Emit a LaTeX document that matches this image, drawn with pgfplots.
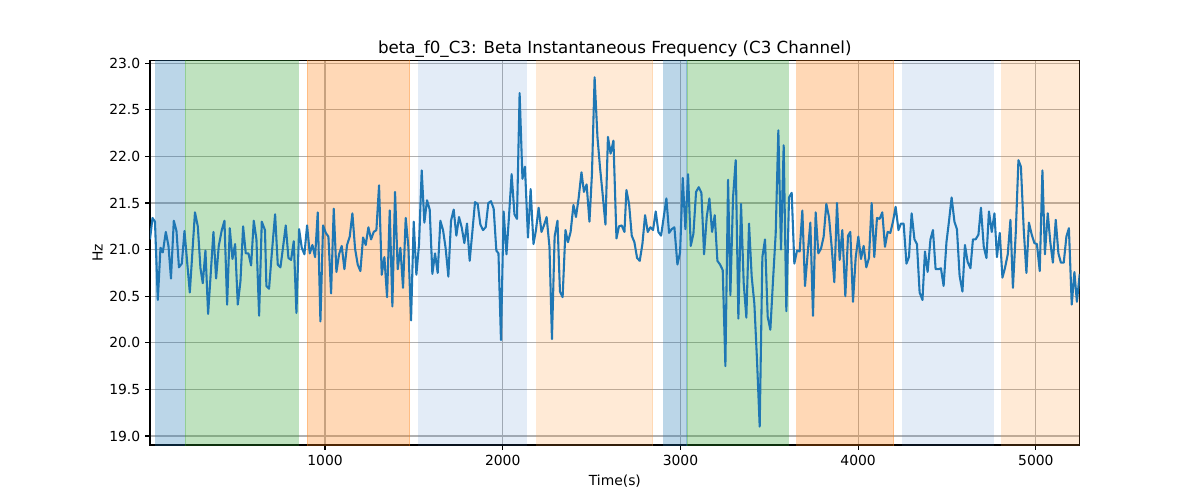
\documentclass[border=0pt]{standalone}
\usepackage{pgfplots}
\pgfplotsset{compat=1.18}
\usepackage{fontspec}
\setmainfont{DejaVu Sans}
\definecolor{tabblue}{HTML}{1F77B4}
\definecolor{tabgreen}{HTML}{2CA02C}
\definecolor{taborange}{HTML}{FF7F0E}
\definecolor{lblue}{RGB}{68,128,202}
\definecolor{lorange}{RGB}{255,150,50}
\definecolor{gridgray}{HTML}{B0B0B0}
\begin{document}
\begin{tikzpicture}
\path[use as bounding box] (-108pt,-39.6pt) rectangle (756pt,320.4pt);
\begin{axis}[
  at={(0pt,0pt)}, anchor=south west,
  scale only axis, width=669.4pt, height=276.7pt,
  xmin=15, xmax=5247, ymin=18.903, ymax=23.028,
  xtick={1000,2000,3000,4000,5000},
  ytick={19,19.5,20,20.5,21,21.5,22,22.5,23},
  yticklabel style={/pgf/number format/.cd, fixed, fixed zerofill, precision=1},
  xticklabel style={/pgf/number format/.cd, 1000 sep={}},
  /pgf/number format/assume math mode=true,
  tick label style={font=\fontsize{10}{12}\selectfont},
  xtick pos=bottom, ytick pos=left, tick align=outside,
  major tick length=3.5pt,
  every tick/.style={black, line width=0.8pt},
  axis line style={black, line width=0.8pt},
  grid=major, major grid style={gridgray, line width=0.8pt},
  title={beta\_f0\_C3: Beta Instantaneous Frequency (C3 Channel)},
  title style={font=\fontsize{12}{14}\selectfont, yshift=-7pt},
  xlabel={Time(s)}, ylabel={Hz},
  label style={font=\fontsize{10}{12}\selectfont},
  xlabel style={yshift=0pt},
  ylabel style={yshift=-2pt},
  clip=true,
]
\addplot[fill=tabblue, draw=tabblue, fill opacity=0.3, draw opacity=0.3, line width=0.6pt] coordinates {(47,18) (47,24) (209,24) (209,18)} -- cycle;
\addplot[fill=tabgreen, draw=tabgreen, fill opacity=0.3, draw opacity=0.3, line width=0.6pt] coordinates {(212,18) (212,24) (850,24) (850,18)} -- cycle;
\addplot[fill=taborange, draw=taborange, fill opacity=0.3, draw opacity=0.3, line width=0.6pt] coordinates {(899,18) (899,24) (1476,24) (1476,18)} -- cycle;
\addplot[fill=lblue, draw=lblue, fill opacity=0.15, draw opacity=0.15, line width=0.6pt] coordinates {(1527,18) (1527,24) (2133,24) (2133,18)} -- cycle;
\addplot[fill=lorange, draw=lorange, fill opacity=0.2, draw opacity=0.2, line width=0.6pt] coordinates {(2191,18) (2191,24) (2844,24) (2844,18)} -- cycle;
\addplot[fill=tabblue, draw=tabblue, fill opacity=0.3, draw opacity=0.3, line width=0.6pt] coordinates {(2906,18) (2906,24) (3035,24) (3035,18)} -- cycle;
\addplot[fill=tabgreen, draw=tabgreen, fill opacity=0.3, draw opacity=0.3, line width=0.6pt] coordinates {(3039,18) (3039,24) (3607,24) (3607,18)} -- cycle;
\addplot[fill=taborange, draw=taborange, fill opacity=0.3, draw opacity=0.3, line width=0.6pt] coordinates {(3654,18) (3654,24) (4200,24) (4200,18)} -- cycle;
\addplot[fill=lblue, draw=lblue, fill opacity=0.15, draw opacity=0.15, line width=0.6pt] coordinates {(4251,18) (4251,24) (4761,24) (4761,18)} -- cycle;
\addplot[fill=lorange, draw=lorange, fill opacity=0.2, draw opacity=0.2, line width=0.6pt] coordinates {(4808,18) (4808,24) (5300,24) (5300,18)} -- cycle;
\addplot[tabblue, line width=1.5pt, line join=round] coordinates {
(15,21.11) (29,21.34) (43,21.30) (59,20.46) (74,21.02) (87,20.97) (104,21.19) (119,21.04) (133,20.69) (149,21.31)
(164,21.20) (178,20.81) (194,20.85) (209,21.20) (224,20.87) (239,20.54) (268,21.40) (284,21.25) (299,20.80) (312,20.64)
(327,20.99) (342,20.31) (357,20.75) (372,21.19) (387,20.69) (402,21.04) (419,21.21) (434,21.31) (449,20.41) (464,21.23)
(479,20.90) (494,21.06) (509,20.41) (524,20.66) (539,21.25) (554,20.96) (569,20.96) (584,20.83) (599,21.31) (614,21.11)
(629,20.29) (644,21.30) (662,21.21) (670,20.61) (685,20.58) (700,20.95) (719,21.38) (734,20.84) (749,20.81) (764,21.03)
(779,21.26) (794,20.91) (809,20.89) (824,21.09) (839,20.32) (854,21.22) (869,21.02) (884,20.95) (899,21.26) (914,20.96)
(929,21.05) (944,20.92) (959,21.40) (974,20.23) (989,21.26) (1004,21.18) (1019,21.14) (1034,20.53) (1049,21.44) (1064,20.76)
(1079,20.95) (1094,21.04) (1109,20.79) (1124,21.05) (1139,21.14) (1154,21.39) (1169,21.01) (1184,20.84) (1199,20.77) (1214,21.13)
(1229,21.05) (1244,21.24) (1259,21.11) (1274,21.19) (1289,21.21) (1304,21.69) (1319,20.73) (1334,20.92) (1349,20.49) (1364,21.42)
(1379,20.39) (1394,21.62) (1409,20.79) (1424,21.02) (1439,20.59) (1454,21.34) (1469,21.03) (1484,20.24) (1499,21.30) (1514,20.73)
(1529,21.06) (1544,21.85) (1559,21.29) (1574,21.53) (1589,21.43) (1604,20.74) (1619,20.96) (1634,20.75) (1649,21.31) (1664,21.21)
(1679,21.01) (1694,20.71) (1709,21.31) (1724,21.43) (1739,21.15) (1754,21.35) (1769,21.24) (1784,21.07) (1799,21.28) (1814,20.88)
(1829,21.19) (1844,21.51) (1859,21.49) (1874,21.27) (1889,21.21) (1904,21.24) (1919,21.50) (1934,21.52) (1949,21.44) (1964,20.99)
(1976,20.96) (1990,20.03) (2005,21.41) (2021,20.95) (2035,21.35) (2050,21.81) (2066,21.38) (2080,21.33) (2095,22.68) (2111,21.76)
(2125,21.89) (2142,21.13) (2157,21.65) (2173,21.06) (2187,21.21) (2202,21.45) (2218,21.19) (2232,21.26) (2247,21.35) (2263,21.03)
(2277,20.04) (2292,21.14) (2308,21.31) (2322,20.55) (2337,20.49) (2353,21.21) (2367,21.08) (2382,21.19) (2398,21.48) (2412,21.35)
(2427,21.55) (2443,21.83) (2457,21.62) (2472,21.70) (2488,21.30) (2502,21.81) (2517,22.85) (2533,22.21) (2547,21.89) (2562,21.60)
(2578,21.27) (2592,22.21) (2607,22.03) (2623,22.17) (2640,21.12) (2654,21.25) (2669,21.26) (2685,21.19) (2696,21.64) (2711,21.49)
(2726,21.15) (2741,21.08) (2756,20.91) (2771,20.88) (2786,21.06) (2801,21.37) (2816,21.19) (2831,21.24) (2846,21.21) (2861,21.41)
(2876,21.19) (2891,21.15) (2906,21.35) (2921,21.55) (2936,21.18) (2951,21.22) (2966,21.24) (2983,20.84) (2998,20.97) (3013,21.77)
(3028,21.22) (3043,21.81) (3058,21.04) (3073,21.17) (3088,21.62) (3103,21.67) (3118,21.61) (3133,20.95) (3148,21.35) (3163,21.55)
(3178,21.19) (3193,21.37) (3208,20.88) (3223,20.84) (3238,20.78) (3253,19.75) (3268,21.75) (3281,20.51) (3296,21.56) (3311,21.96)
(3326,20.26) (3341,21.49) (3356,20.64) (3371,20.27) (3386,21.28) (3401,20.71) (3416,20.42) (3431,19.81) (3446,19.10) (3461,20.92)
(3476,21.11) (3491,20.28) (3506,20.14) (3521,20.67) (3536,21.17) (3551,22.28) (3566,21.00) (3581,22.12) (3596,20.34) (3611,21.56)
(3626,21.61) (3641,20.85) (3656,20.99) (3671,20.98) (3686,21.42) (3701,20.61) (3716,20.96) (3731,21.29) (3746,20.29) (3761,21.40)
(3776,20.96) (3791,21.01) (3806,21.14) (3821,21.49) (3836,21.35) (3851,21.03) (3866,20.65) (3881,21.50) (3896,20.89) (3911,21.21)
(3928,20.50) (3943,21.15) (3956,21.19) (3971,20.44) (3986,20.91) (4001,21.14) (4016,20.90) (4031,21.04) (4046,20.81) (4061,20.91)
(4076,21.50) (4091,20.92) (4106,21.34) (4121,21.33) (4136,21.40) (4151,21.03) (4166,21.19) (4181,21.18) (4196,21.30) (4211,21.46)
(4227,21.21) (4241,21.28) (4256,21.28) (4272,20.85) (4286,20.92) (4301,21.39) (4317,21.11) (4331,21.06) (4346,20.54) (4362,20.46)
(4376,20.98) (4391,20.76) (4407,21.11) (4421,21.21) (4436,20.79) (4452,20.79) (4466,20.80) (4481,20.61) (4497,21.08) (4511,21.30)
(4526,21.56) (4542,21.30) (4556,21.22) (4571,20.72) (4587,20.55) (4601,21.05) (4616,20.87) (4632,20.80) (4646,21.11) (4661,21.11)
(4677,21.16) (4691,21.45) (4707,21.03) (4722,20.91) (4736,21.41) (4752,21.19) (4767,21.39) (4781,20.92) (4797,21.18) (4812,20.70)
(4826,20.80) (4842,20.95) (4857,21.32) (4871,20.59) (4887,21.18) (4902,21.96) (4916,21.89) (4932,21.21) (4947,20.75) (4961,21.29)
(4977,21.16) (4992,21.07) (5006,21.06) (5022,20.77) (5037,21.85) (5051,20.95) (5067,21.39) (5082,21.07) (5096,20.86) (5112,21.32)
(5127,20.96) (5141,20.86) (5157,20.86) (5172,21.14) (5186,21.23) (5202,20.41) (5217,20.76) (5231,20.44) (5247,20.74)
};
\end{axis}
\end{tikzpicture}
\end{document}
